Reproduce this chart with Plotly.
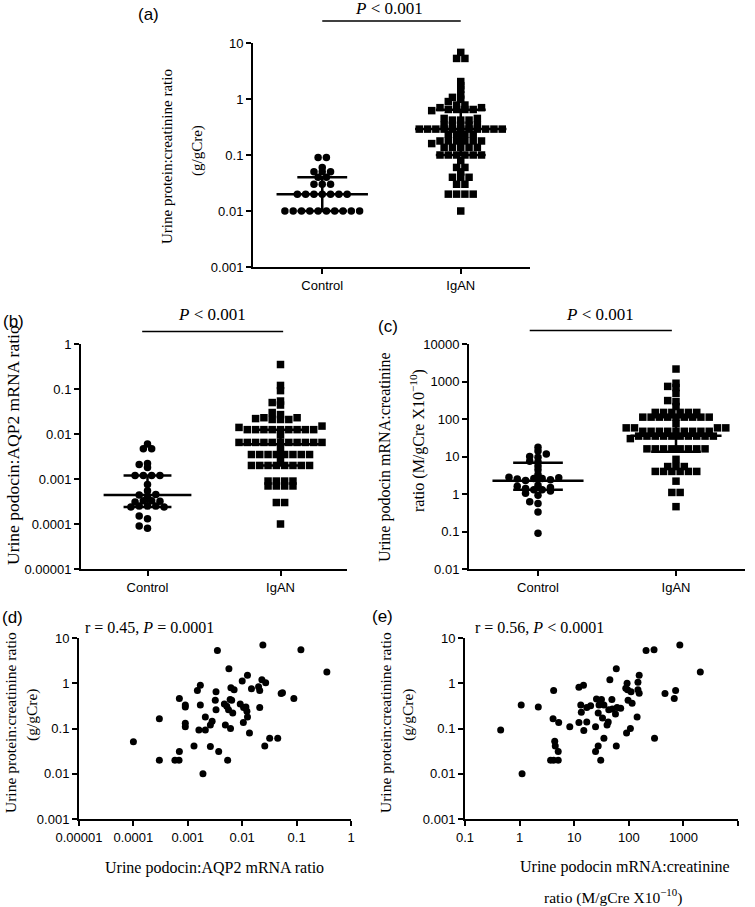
import numpy as np
import plotly.graph_objects as go

W, H = 755, 907

# ---------------- data ----------------
groups = ["Control", "IgAN"]

# (a) urine protein:creatinine ratio (g/gCre)
a_control = [0.09, 0.09, 0.06, 0.05, 0.05, 0.05, 0.04, 0.04, 0.03, 0.03, 0.03,
             0.02, 0.02, 0.02, 0.02, 0.02, 0.02, 0.02,
             0.01, 0.01, 0.01, 0.01, 0.01, 0.01, 0.01, 0.01, 0.01, 0.01]
a_igan = [6.8, 5.3, 5.3, 2.05, 1.73, 1.49, 1.18, 1.07, 0.99, 0.9,
          0.78, 0.78, 0.70, 0.70, 0.65, 0.65, 0.62, 0.65, 0.65,
          0.45, 0.45, 0.42, 0.42, 0.42,
          0.34, 0.34, 0.34, 0.34, 0.34,
          0.29, 0.29, 0.29, 0.29, 0.29, 0.29, 0.29, 0.29, 0.29, 0.29, 0.29,
          0.235, 0.235, 0.235, 0.235,
          0.178, 0.178, 0.178, 0.178, 0.178, 0.178,
          0.137, 0.137, 0.137, 0.137, 0.137, 0.16,
          0.10, 0.10, 0.10, 0.10, 0.10, 0.10,
          0.08, 0.06, 0.06, 0.05, 0.04, 0.04, 0.04, 0.03, 0.03,
          0.02, 0.02, 0.02, 0.02, 0.01]
a_median = [0.02, 0.29]
a_q1 = [0.01, 0.10]
a_q3 = [0.04, 0.64]

# (b) urine podocin:AQP2 mRNA ratio
b_control = [0.006, 0.0047, 0.0047, 0.0022, 0.0018, 0.0021, 0.0012, 0.0012, 0.0012, 0.0012,
             0.00075, 0.00055, 0.00044, 0.00042, 0.00045, 0.00033, 0.00032, 0.00031, 0.00033,
             0.00025, 0.00024, 0.00025, 0.00025, 0.00024, 0.00015, 0.00013, 0.00009, 0.00008]
b_igan = [0.35, 0.12, 0.092, 0.054, 0.044, 0.05, 0.03, 0.027,
          0.023, 0.023, 0.021, 0.021, 0.021, 0.022,
          0.015, 0.014,
          0.0125, 0.0125, 0.0125, 0.0125, 0.0125, 0.0125, 0.0125, 0.0125, 0.0125,
          0.0095,
          0.0065, 0.0065, 0.0065, 0.0065, 0.0065, 0.0065, 0.0065, 0.0065, 0.0065, 0.0065, 0.0065,
          0.0047,
          0.0035, 0.0035, 0.0035, 0.0035, 0.0035, 0.0035, 0.0035, 0.0035,
          0.0025,
          0.002, 0.002, 0.002, 0.002, 0.002, 0.002, 0.002, 0.002,
          0.0009, 0.0009, 0.0009, 0.0009, 0.0007, 0.0007, 0.0007, 0.0007,
          0.0003, 0.0003, 0.0001]
b_median = [0.00044, 0.0059]
b_q1 = [0.00024, 0.002]
b_q3 = [0.0012, 0.0125]

# (c) urine podocin mRNA:creatinine ratio (M/gCre x10^-10)
c_control = [17.6, 14, 11.7, 10, 9.5, 7.5, 7.2, 5.6, 4.4, 3.3, 2.8, 2.7, 2.6, 2.6, 2.5,
             2.4, 2.3, 1.7, 1.6, 1.5, 1.4, 1.3, 1.3, 1.2, 1.05, 0.93, 0.62, 0.56, 0.33, 0.09]
c_igan = [2150, 900, 740, 690, 480, 310, 290, 215,
          150, 150, 150, 150, 150, 150,
          112, 112, 112, 112, 112, 112, 112, 112, 112,
          75, 58, 58, 58, 58,
          47, 47, 47, 47, 47, 47, 47, 47, 47,
          35, 35, 35, 35, 35, 35, 35, 35, 35, 35, 30,
          16, 16, 16, 16, 16, 16, 16, 16,
          8.4, 5.4, 5.4, 4.0, 4.0, 4.0, 4.0, 4.0, 4.0, 5.4,
          2.2, 1.1, 1.1, 0.46]
c_median = [2.25, 35.5]
c_q1 = [1.3, 13.4]
c_q3 = [6.8, 112]

# (d) podocin:AQP2 ratio vs protein:creatinine ratio
d_x = [0.0035, 0.024, 0.12, 0.36, 0.0057, 0.0125, 0.010, 0.023, 0.027, 0.0017,
       0.0015, 0.0033, 0.0062, 0.0071, 0.0148, 0.020, 0.021, 0.052, 0.055, 0.089,
       0.0007, 0.0003, 0.0001, 0.0009, 0.0009, 0.0017, 0.0032, 0.0047, 0.0052, 0.006,
       0.0064, 0.0056, 0.0067, 0.0092, 0.0106, 0.0117, 0.0122, 0.0125, 0.0033, 0.021,
       0.0021, 0.0026, 0.0028, 0.0016, 0.0021, 0.0009, 0.0009, 0.0049, 0.0061, 0.0105,
       0.0136, 0.032, 0.045, 0.026, 0.0003, 0.00058, 0.00069, 0.0007, 0.0013, 0.0026,
       0.0037, 0.0054, 0.0019]
d_y = [5.3, 7.0, 5.5, 1.77, 2.1, 1.5, 1.12, 1.2, 1.03, 0.9,
       0.69, 0.65, 0.8, 0.72, 0.76, 0.84, 0.69, 0.59, 0.62, 0.46,
       0.46, 0.165, 0.051, 0.33, 0.30, 0.33, 0.42, 0.35, 0.31, 0.44,
       0.42, 0.26, 0.22, 0.35, 0.29, 0.30, 0.24, 0.18, 0.26, 0.29,
       0.18, 0.12, 0.145, 0.093, 0.093, 0.13, 0.11, 0.12, 0.10, 0.135,
       0.08, 0.061, 0.061, 0.041, 0.02, 0.02, 0.02, 0.031, 0.041, 0.04,
       0.031, 0.02, 0.01]

# (e) podocin mRNA:creatinine ratio vs protein:creatinine ratio
e_x = [860, 207, 290, 2040, 59, 155, 45, 93, 147, 12.2,
       14.8, 4.2, 88, 95, 110, 147, 155, 460, 720, 680,
       1.07, 2.2, 0.45, 4.1, 5.2, 8.3, 12.2, 13.2, 13.5, 15,
       17, 17, 20, 24.6, 25.6, 31.6, 28.5, 27.5, 35, 33,
       40, 42, 43, 49, 50, 57, 61, 71, 97, 115,
       142, 91, 107, 296, 35, 59, 27.5, 24.6, 30.6, 4.4,
       4.5, 5.1, 3.7, 4.2, 5.1, 1.11]
e_y = [7.0, 5.3, 5.5, 1.77, 2.1, 1.5, 1.2, 1.0, 1.05, 0.82,
       0.9, 0.69, 0.78, 0.72, 0.65, 0.72, 0.6, 0.59, 0.69, 0.46,
       0.33, 0.3, 0.093, 0.165, 0.135, 0.11, 0.135, 0.33, 0.23, 0.09,
       0.14, 0.29, 0.32, 0.11, 0.45, 0.44, 0.33, 0.22, 0.33, 0.17,
       0.12, 0.14, 0.26, 0.44, 0.27, 0.21, 0.29, 0.28, 0.42, 0.36,
       0.18, 0.08, 0.1, 0.061, 0.061, 0.041, 0.041, 0.031, 0.02, 0.052,
       0.041, 0.031, 0.02, 0.02, 0.02, 0.01]

# tick labels
ticks_a = ["0.001", "0.01", "0.1", "1", "10"]
ticks_b = ["0.00001", "0.0001", "0.001", "0.01", "0.1", "1"]
ticks_c = ["0.01", "0.1", "1", "10", "100", "1000", "10000"]
ticks_d_x = ["0.00001", "0.0001", "0.001", "0.01", "0.1", "1"]
ticks_e_x = ["0.1", "1", "10", "100", "1000", "10000"]

# ---------------- layout geometry (pixels) ----------------
# left, right, top, bottom
BOX = {
    "a": (253, 530, 43, 267),
    "b": (81, 347, 344, 569),
    "c": (469, 745, 344, 569),
    "d": (79, 351, 638, 819),
    "e": (465, 738, 638, 819),
}
YR = {"a": (-3, 1), "b": (-5, 0), "c": (-2, 4), "d": (-3, 1), "e": (-3, 1)}
XR = {"a": (0.5, 2.5), "b": (0.5, 2.5), "c": (0.5, 2.5), "d": (-5, 0), "e": (-1, 4)}

SERIF = "Liberation Serif, Times New Roman, serif"
SANS = "Liberation Sans, Arial, sans-serif"


def dom_x(k):
    l, r, t, b = BOX[k]
    return [l / W, r / W]


def dom_y(k):
    l, r, t, b = BOX[k]
    return [1 - b / H, 1 - t / H]


def swarm(vals, k, sp=8.3, dy_lim=3.6, dx_lim=7.0):
    """Beeswarm offsets (data units) computed from the values."""
    l, r, t, b = BOX[k]
    ppd = (b - t) / (YR[k][1] - YR[k][0])
    ppu = (r - l) / (XR[k][1] - XR[k][0])
    vals = np.asarray(vals, float)
    uniq, counts = np.unique(vals, return_counts=True)
    order = np.argsort(-counts, kind="stable")
    placed = []
    xoff = np.zeros(len(vals))
    h = sp / 2

    def clash(x, y):
        for (px, pyy) in placed:
            if abs(pyy - y) < dy_lim and abs(px - x) < dx_lim:
                return True
        return False

    for idx in order:
        v, n = uniq[idx], counts[idx]
        y = np.log10(v) * ppd
        base = (np.arange(n) - (n - 1) / 2) * sp
        if not any(clash(x, y) for x in base):
            chosen = list(base)
            for x in chosen:
                placed.append((x, y))
        else:
            chosen = []
            for i in range(n):
                sgn = -1 if i % 2 == 0 else 1
                for kk in range(200):
                    c = ((kk + 1) // 2) * h * (sgn if kk % 2 else -sgn)
                    if not clash(c, y):
                        chosen.append(c)
                        placed.append((c, y))
                        break
        where = np.where(vals == v)[0]
        xoff[where] = np.asarray(chosen) / ppu
    return xoff


fig = go.Figure()

axis_common = dict(showline=True, linecolor="black", linewidth=2, ticks="outside",
                   ticklen=5, tickwidth=2, tickcolor="black", showgrid=False,
                   zeroline=False, automargin=False,
                   tickfont=dict(family=SANS, size=13, color="black"))

panels = [
    ("a", "x", "y", a_control, a_igan, a_median, a_q1, a_q3, ticks_a),
    ("b", "x2", "y2", b_control, b_igan, b_median, b_q1, b_q3, ticks_b),
    ("c", "x3", "y3", c_control, c_igan, c_median, c_q1, c_q3, ticks_c),
]

layout_axes = {}
for k, xa, ya, ctrl, ig, med, q1, q3, tks in panels:
    for gi, (vals, sym) in enumerate([(ctrl, "circle"), (ig, "square")]):
        xpos = gi + 1 + swarm(vals, k)
        fig.add_trace(go.Scatter(x=xpos, y=vals, mode="markers", xaxis=xa, yaxis=ya,
                                 marker=dict(symbol=sym, size=7.5, color="black",
                                             line=dict(width=0)),
                                 showlegend=False, hoverinfo="skip"))
        cx = gi + 1
        fig.add_trace(go.Scatter(x=[cx - 0.33, cx + 0.33], y=[med[gi], med[gi]], mode="lines",
                                 xaxis=xa, yaxis=ya, line=dict(color="black", width=2.5),
                                 showlegend=False, hoverinfo="skip"))
        for qv in (q1[gi], q3[gi]):
            fig.add_trace(go.Scatter(x=[cx - 0.18, cx + 0.18], y=[qv, qv], mode="lines",
                                     xaxis=xa, yaxis=ya, line=dict(color="black", width=2.5),
                                     showlegend=False, hoverinfo="skip"))
        fig.add_trace(go.Scatter(x=[cx, cx], y=[q1[gi], q3[gi]], mode="lines",
                                 xaxis=xa, yaxis=ya, line=dict(color="black", width=2.5),
                                 showlegend=False, hoverinfo="skip"))
    n = xa[1:]
    layout_axes["xaxis" + n] = dict(axis_common, domain=dom_x(k), range=list(XR[k]),
                                    anchor=ya, tickvals=[1, 2], ticktext=groups)
    yv = [10.0 ** e for e in range(YR[k][0], YR[k][1] + 1)]
    layout_axes["yaxis" + n] = dict(axis_common, domain=dom_y(k), type="log",
                                    range=list(YR[k]), anchor=xa, tickvals=yv, ticktext=tks)

for k, xa, ya, xs, ys, xt in [("d", "x4", "y4", d_x, d_y, ticks_d_x),
                              ("e", "x5", "y5", e_x, e_y, ticks_e_x)]:
    fig.add_trace(go.Scatter(x=xs, y=ys, mode="markers", xaxis=xa, yaxis=ya,
                             marker=dict(symbol="circle", size=7, color="black",
                                         line=dict(width=0)),
                             showlegend=False, hoverinfo="skip"))
    n = xa[1:]
    xv = [10.0 ** e for e in range(XR[k][0], XR[k][1] + 1)]
    yv = [10.0 ** e for e in range(YR[k][0], YR[k][1] + 1)]
    layout_axes["xaxis" + n] = dict(axis_common, domain=dom_x(k), type="log",
                                    range=list(XR[k]), anchor=ya, tickvals=xv, ticktext=xt)
    layout_axes["yaxis" + n] = dict(axis_common, domain=dom_y(k), type="log",
                                    range=list(YR[k]), anchor=xa, tickvals=yv, ticktext=ticks_a)


def ann(text, x, y, size, family=SERIF, angle=0, xanchor="center"):
    return dict(text=text, x=x / W, y=1 - y / H, xref="paper", yref="paper",
                showarrow=False, textangle=angle, xanchor=xanchor, yanchor="middle",
                font=dict(family=family, size=size, color="black"))


annotations = [
    ann("(a)", 148, 15, 17, SANS),
    ann("(b)", 13, 321, 17, SANS),
    ann("(c)", 388, 326, 17, SANS),
    ann("(d)", 12, 617, 17, SANS),
    ann("(e)", 382, 616, 17, SANS),
    ann("<i>P</i> &lt; 0.001", 389, 9, 17),
    ann("<i>P</i> &lt; 0.001", 212, 314, 17),
    ann("<i>P</i> &lt; 0.001", 600, 314, 17),
    ann("r = 0.45, <i>P</i> = 0.0001", 83, 627, 16, xanchor="left"),
    ann("r = 0.56, <i>P</i> &lt; 0.0001", 473, 627, 16, xanchor="left"),
    ann("Urine protein:creatinine ratio", 167, 157, 15, angle=-90),
    ann("(g/gCre)", 197, 150, 15, angle=-90),
    ann("Urine podocin:AQP2 mRNA ratio", 13, 445, 17.5, angle=-90),
    ann("Urine podocin mRNA:creatinine", 385, 457, 16, angle=-90),
    ann("ratio (M/gCre X10<sup>−10</sup>)", 417, 441, 16, angle=-90),
    ann("Urine protein:creatinine ratio", 10, 723, 15.5, angle=-90),
    ann("(g/gCre)", 32, 715, 15.5, angle=-90),
    ann("Urine protein:creatinine ratio", 385, 723, 15.5, angle=-90),
    ann("(g/gCre)", 408, 715, 15.5, angle=-90),
    ann("Urine podocin:AQP2 mRNA ratio", 214, 868, 16),
    ann("Urine podocin mRNA:creatinine", 625, 867, 16),
    ann("ratio (M/gCre X10<sup>−10</sup>)", 613, 896, 15.5),
]

shapes = [
    dict(type="line", xref="x", yref="paper", x0=1, x1=2, y0=1 - 21 / H, y1=1 - 21 / H,
         line=dict(color="black", width=1.5)),
    dict(type="line", xref="x2", yref="paper", x0=0.96, x1=2.02, y0=1 - 331.5 / H,
         y1=1 - 331.5 / H, line=dict(color="black", width=1.5)),
    dict(type="line", xref="x3", yref="paper", x0=0.94, x1=1.97, y0=1 - 330.5 / H,
         y1=1 - 330.5 / H, line=dict(color="black", width=1.5)),
]

fig.update_layout(template="none", width=W, height=H, margin=dict(l=0, r=0, t=0, b=0, pad=0),
                  paper_bgcolor="white", plot_bgcolor="white",
                  annotations=annotations, shapes=shapes, showlegend=False,
                  **layout_axes)

fig.write_html("out.html", config={"displayModeBar": False},
               post_script="document.body.style.margin='0';"
                           "document.body.style.overflow='hidden';")
